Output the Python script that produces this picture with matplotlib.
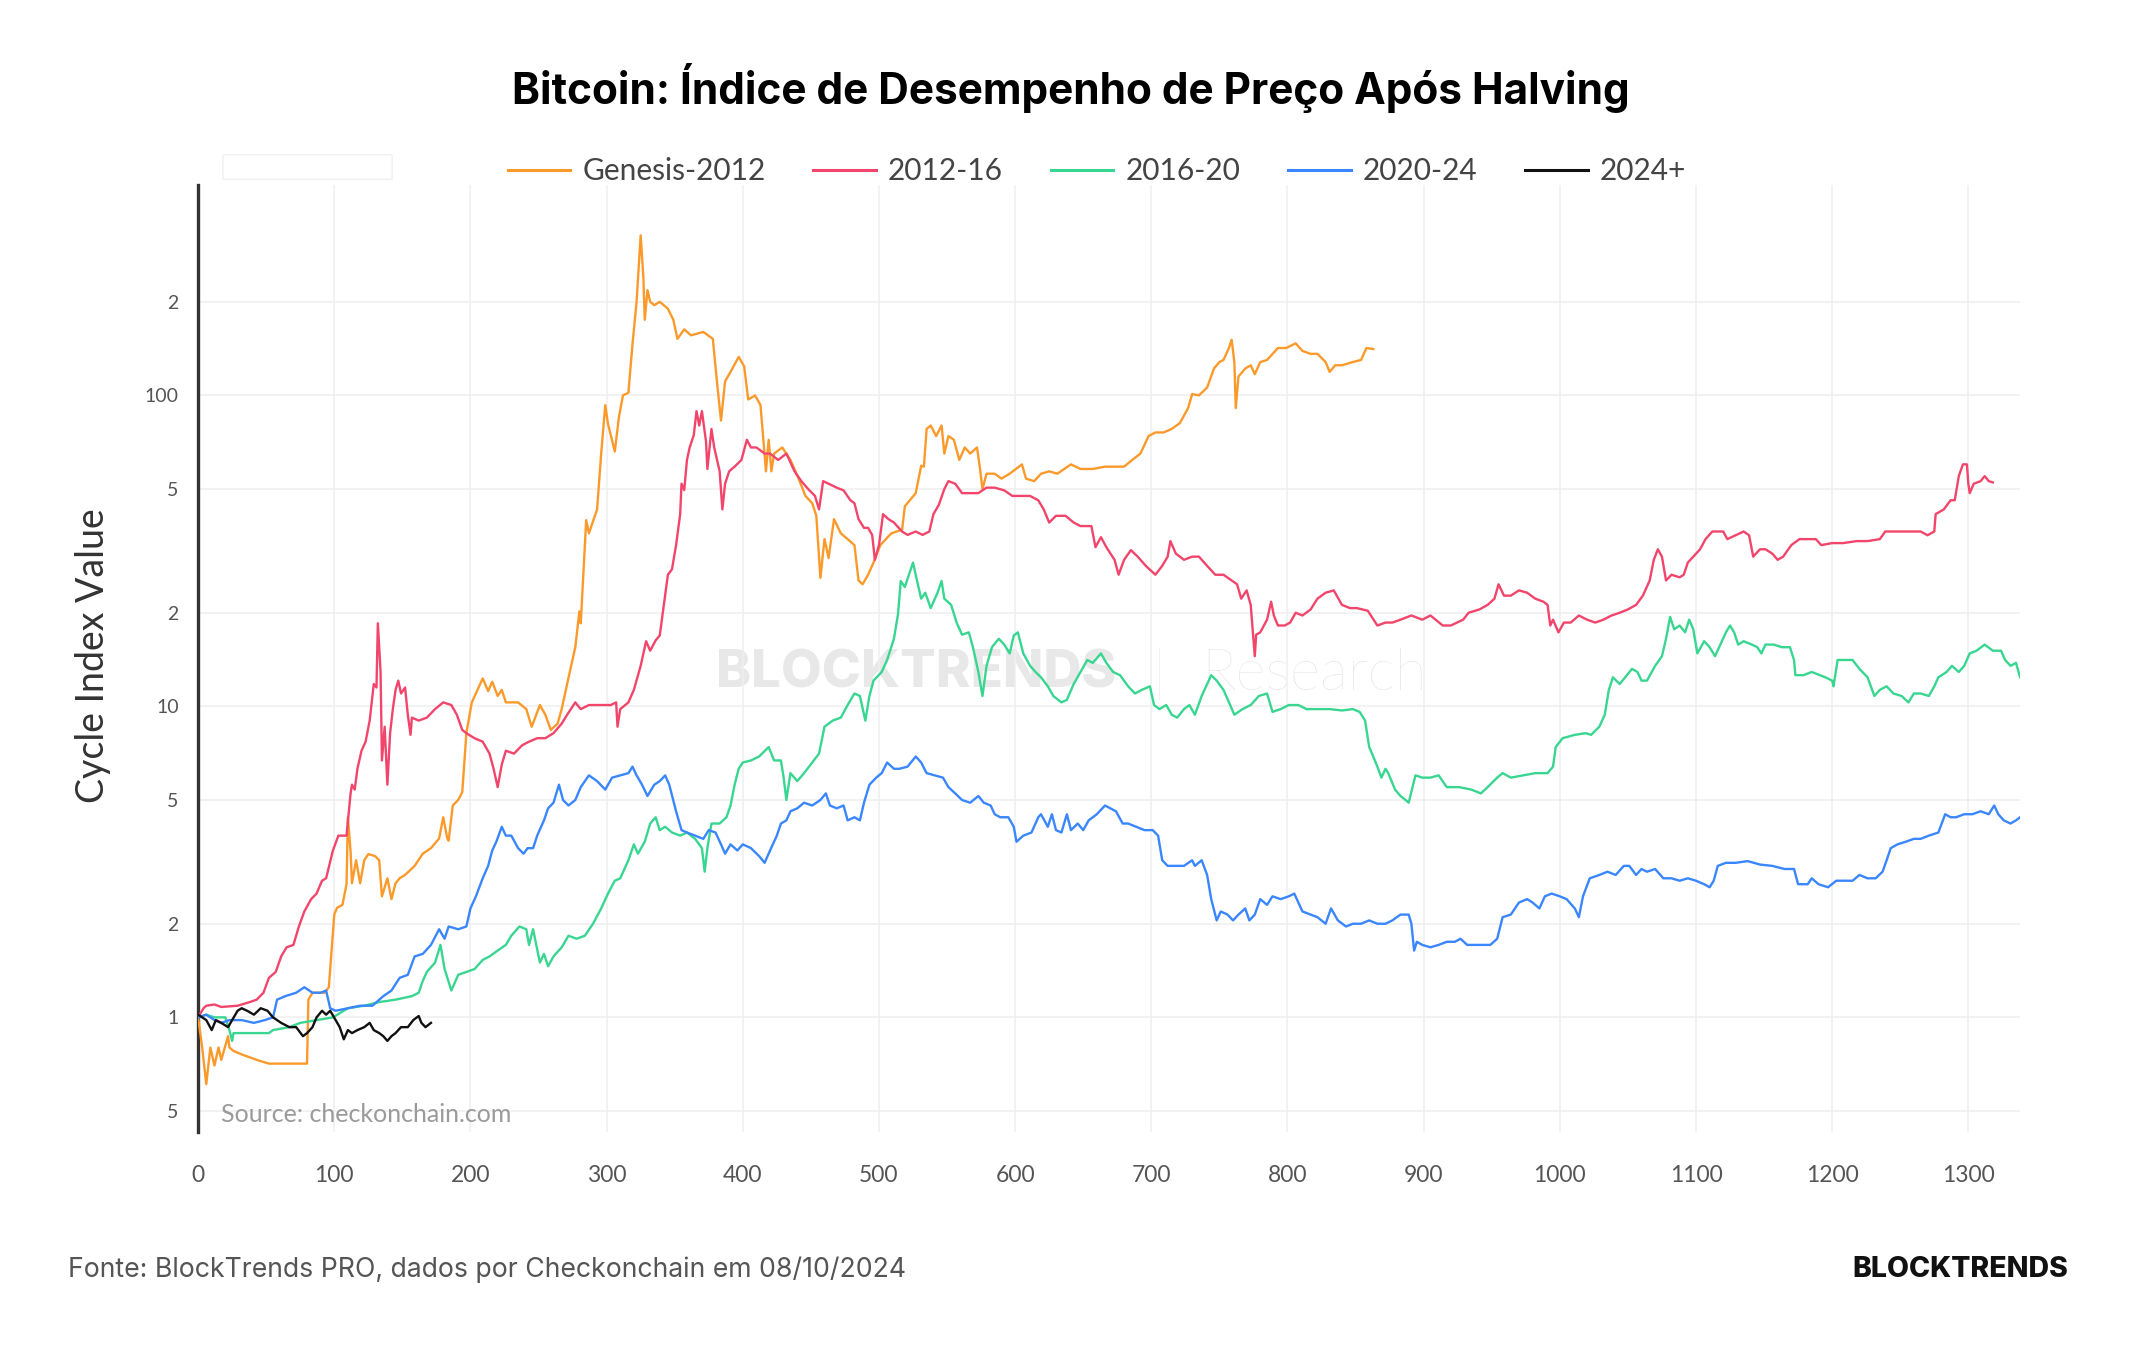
import matplotlib
matplotlib.use("Agg")
import matplotlib.pyplot as plt
from matplotlib.ticker import FixedLocator, FixedFormatter, NullLocator
from matplotlib.patches import FancyBboxPatch

# days since halving / cycle index value
genesis_days = [0, 3, 6, 9, 12, 15, 17, 22, 23, 26, 32, 43, 52, 64, 80, 81, 84, 93, 96, 97,
                100, 102, 106, 109, 110, 112, 113, 116, 119, 122, 125, 130, 133, 135, 139, 142, 145, 148, 152, 159,
                165, 171, 177, 180, 183, 184, 187, 191, 194, 197, 201, 206, 209, 213, 216, 220, 223, 226, 235, 241,
                245, 251, 255, 259, 264, 267, 271, 274, 277, 280, 281, 285, 287, 293, 296, 299, 301, 306, 309, 312,
                316, 319, 322, 325, 327, 328, 330, 332, 335, 339, 345, 349, 352, 357, 362, 371, 378, 381, 384, 387,
                391, 397, 401, 404, 409, 413, 417, 419, 421, 423, 429, 435, 441, 446, 451, 454, 457, 460, 463, 467,
                472, 477, 482, 485, 488, 492, 496, 501, 509, 517, 519, 527, 531, 533, 535, 538, 542, 546, 548, 551,
                555, 559, 563, 567, 572, 574, 576, 579, 585, 590, 596, 605, 608, 614, 619, 625, 631, 641, 648, 657,
                666, 680, 686, 692, 698, 703, 709, 715, 721, 727, 730, 735, 741, 746, 750, 753, 757, 759, 761, 762,
                764, 769, 773, 776, 780, 785, 793, 799, 806, 811, 817, 822, 828, 831, 835, 840, 848, 854, 858, 863]
genesis_vals = [1.0, 0.8, 0.61, 0.8, 0.70, 0.8, 0.73, 0.87, 0.8, 0.78, 0.76, 0.73, 0.71, 0.71, 0.71, 1.14, 1.2, 1.2, 1.25, 1.43,
                2.14, 2.25, 2.3, 2.68, 4.4, 3.4, 2.7, 3.2, 2.7, 3.2, 3.35, 3.3, 3.2, 2.45, 2.8, 2.4, 2.7, 2.8, 2.87, 3.07,
                3.36, 3.5, 3.76, 4.4, 3.76, 3.7, 4.8, 5.0, 5.3, 8.2, 10.3, 11.5, 12.3, 11.2, 12.0, 10.8, 11.3, 10.3, 10.3, 9.8,
                8.6, 10.1, 9.4, 8.4, 8.8, 9.8, 11.8, 13.5, 15.5, 20.2, 18.5, 39.7, 36, 43, 65, 93, 81, 66, 85, 100,
                102, 146, 200, 327, 239, 175, 218, 200, 195, 200, 190, 175, 152, 163, 156, 160, 152, 111, 83, 111,
                119, 133, 124, 97, 100, 93, 57, 72, 57, 65, 68, 62, 54, 47.5, 45, 41, 25.9, 34.5, 30, 40,
                36, 34.5, 33, 25.4, 24.7, 26.5, 29, 33, 36, 37, 44, 48.5, 59.4, 59, 78, 80, 74, 80, 65, 74,
                72, 62, 68, 65, 68, 59, 50, 56, 56, 54, 56, 60, 54, 53, 56, 57, 56, 60, 58, 58,
                59, 59, 62, 65, 74, 76, 76, 78, 81.5, 91, 101, 100, 106, 122, 128, 130, 142, 151, 128, 91,
                115, 122, 125, 117, 128, 130, 142, 142, 147, 139, 136, 136, 128, 119, 125, 125, 128, 130, 142, 141]

c1216_days = [0, 4, 6, 12, 17, 29, 38, 43, 48, 52, 57, 61, 65, 70, 74, 78, 83, 87, 91, 94,
              99, 103, 109, 112, 113, 115, 117, 120, 123, 126, 129, 131, 132, 134, 135, 137, 139, 141, 143, 145,
              147, 149, 152, 154, 156, 157, 162, 168, 174, 180, 186, 190, 194, 197, 203, 209, 214, 217, 220, 223,
              226, 232, 238, 243, 249, 255, 261, 267, 271, 277, 281, 287, 296, 303, 307, 308, 310, 316, 320, 325,
              329, 332, 336, 339, 342, 345, 348, 351, 354, 355, 357, 359, 361, 364, 366, 368, 370, 373, 374, 377,
              379, 383, 385, 387, 390, 394, 399, 403, 406, 410, 416, 420, 426, 432, 438, 443, 448, 453, 456, 459,
              463, 469, 474, 479, 482, 485, 489, 492, 495, 497, 500, 503, 507, 511, 517, 521, 527, 532, 537, 540,
              544, 548, 551, 556, 561, 567, 573, 579, 585, 592, 598, 605, 611, 617, 621, 625, 630, 637, 643, 648,
              656, 659, 663, 667, 673, 676, 680, 685, 690, 696, 703, 708, 712, 714, 718, 724, 730, 735, 741, 747,
              753, 759, 763, 766, 770, 773, 776, 777, 780, 785, 788, 790, 793, 798, 802, 806, 811, 817, 822, 828,
              834, 840, 846, 851, 859, 866, 872, 877, 883, 891, 899, 905, 914, 920, 929, 933, 941, 947, 952, 955,
              959, 964, 970, 976, 982, 988, 991, 993, 995, 999, 1003, 1008, 1014, 1020, 1026, 1032, 1038, 1044, 1050, 1056,
              1061, 1066, 1069, 1072, 1075, 1078, 1082, 1088, 1091, 1094, 1098, 1103, 1107, 1112, 1116, 1120, 1123, 1129, 1135, 1139,
              1142, 1147, 1151, 1156, 1160, 1164, 1170, 1176, 1182, 1188, 1192, 1200, 1208, 1218, 1226, 1235, 1239, 1244, 1253, 1259,
              1265, 1270, 1275, 1276, 1282, 1287, 1290, 1293, 1296, 1299, 1300, 1301, 1304, 1309, 1312, 1315, 1318]
c1216_vals = [1.0, 1.07, 1.09, 1.1, 1.08, 1.09, 1.12, 1.14, 1.2, 1.34, 1.4, 1.57, 1.68, 1.71, 1.96, 2.19, 2.4, 2.5, 2.75, 2.8,
              3.44, 3.84, 3.84, 5.26, 5.6, 5.4, 6.3, 7.2, 7.7, 9.0, 11.8, 11.5, 18.5, 12.9, 6.7, 8.6, 5.6, 8.2, 9.8, 11.3,
              12.1, 11.0, 11.5, 9.4, 8.1, 9.2, 9.0, 9.2, 9.8, 10.3, 10.1, 9.4, 8.4, 8.2, 7.9, 7.7, 7.05, 6.3, 5.5, 6.5,
              7.2, 7.05, 7.5, 7.7, 7.9, 7.9, 8.2, 8.8, 9.4, 10.3, 9.8, 10.1, 10.1, 10.1, 10.3, 8.6, 9.8, 10.3, 11.3, 13.5,
              16.2, 15.1, 16.3, 16.9, 21.2, 26.5, 27.6, 33, 41.5, 52, 49.6, 62, 68, 74.5, 89, 80, 89, 71, 58, 78,
              68, 57, 43, 52, 57, 59, 62, 72, 68, 68, 65, 65, 62, 65, 57, 53, 50, 47.5, 43, 53,
              52, 50.5, 49.5, 46, 45, 40, 37.5, 37.5, 35.6, 29.6, 33, 41.5, 40, 39, 36.5, 35.6, 36.5, 35.6, 36.5, 41.5,
              44.5, 50, 53, 52, 48.5, 48.5, 48.5, 50.5, 50.5, 49.5, 47.5, 47.5, 47.5, 46, 43, 39, 41, 41, 39, 38,
              38, 32.5, 35, 32.5, 29.6, 26.5, 29.6, 31.8, 30.3, 28.3, 26.5, 28.3, 30.3, 34, 31, 29.6, 30.3, 30.3, 28.3, 26.5,
              26.5, 25.4, 24.7, 22.2, 23.6, 21.2, 14.5, 17, 17.3, 19, 21.7, 19.6, 18.2, 18.2, 18.6, 20, 19.6, 20.5, 22.2, 23.2,
              23.6, 21.2, 20.7, 20.7, 20.3, 18.2, 18.6, 18.6, 19, 19.6, 19, 19.6, 18.2, 18.2, 19, 20, 20.5, 21.2, 22.2, 24.7,
              22.7, 22.7, 23.6, 23.2, 22.2, 21.7, 21.2, 18.2, 19, 17.3, 18.6, 18.6, 19.6, 19, 18.6, 19, 19.6, 20, 20.5, 21.2,
              22.7, 25.4, 29.6, 32, 30.3, 25.4, 26.5, 26, 26.5, 29, 30.3, 32, 34.5, 36.5, 36.5, 36.5, 34.5, 35.5, 36.5, 35.5,
              30.3, 32, 32, 31, 29.6, 30.3, 33, 34.5, 34.5, 34.5, 33, 33.5, 33.5, 34, 34, 34.5, 36.5, 36.5, 36.5, 36.5,
              36.5, 35.5, 36.5, 41.5, 43, 46, 46, 55, 60, 60, 52, 48.5, 52, 53, 55, 53, 52.5]

c1620_days = [0, 6, 12, 20, 23, 25, 26, 35, 45, 52, 55, 67, 75, 87, 99, 110, 122, 133, 145, 157,
              162, 165, 168, 174, 178, 181, 186, 191, 197, 203, 209, 214, 220, 226, 230, 236, 241, 243, 246, 251,
              254, 257, 261, 267, 272, 278, 284, 290, 296, 301, 306, 310, 316, 320, 323, 328, 332, 336, 339, 343,
              348, 354, 359, 365, 370, 372, 374, 377, 383, 388, 391, 394, 397, 400, 406, 412, 419, 423, 428, 430,
              432, 435, 440, 445, 451, 456, 460, 466, 472, 477, 482, 486, 490, 493, 496, 502, 506, 511, 514, 516,
              519, 522, 525, 528, 531, 534, 538, 543, 546, 548, 553, 557, 561, 566, 569, 573, 576, 579, 583, 588,
              592, 596, 599, 602, 606, 611, 615, 619, 624, 628, 634, 638, 643, 648, 653, 657, 663, 667, 672, 677,
              683, 688, 693, 699, 702, 706, 711, 715, 719, 724, 728, 732, 737, 741, 744, 748, 753, 757, 761, 767,
              773, 779, 785, 789, 795, 801, 808, 814, 822, 831, 840, 848, 853, 857, 860, 863, 866, 869, 872, 874,
              879, 883, 888, 889, 894, 899, 905, 911, 917, 926, 935, 942, 947, 954, 958, 964, 973, 982, 991, 995,
              997, 1002, 1011, 1019, 1023, 1029, 1033, 1036, 1039, 1044, 1048, 1053, 1057, 1060, 1064, 1070, 1075, 1078, 1081, 1084,
              1088, 1092, 1095, 1098, 1101, 1106, 1110, 1114, 1117, 1122, 1125, 1128, 1131, 1135, 1141, 1145, 1148, 1151, 1157, 1163,
              1169, 1172, 1173, 1179, 1185, 1191, 1195, 1200, 1201, 1204, 1209, 1215, 1220, 1226, 1231, 1235, 1240, 1245, 1251, 1256,
              1260, 1265, 1271, 1275, 1278, 1284, 1288, 1293, 1297, 1301, 1306, 1312, 1318, 1324, 1327, 1331, 1335, 1338]
c1620_vals = [1.0, 1.02, 1.0, 1.0, 0.91, 0.84, 0.89, 0.89, 0.89, 0.89, 0.91, 0.93, 0.96, 0.98, 1.0, 1.07, 1.09, 1.12, 1.14, 1.17,
              1.2, 1.31, 1.4, 1.5, 1.71, 1.43, 1.22, 1.37, 1.4, 1.43, 1.53, 1.57, 1.64, 1.71, 1.83, 1.96, 1.92, 1.71, 1.92, 1.5,
              1.6, 1.46, 1.57, 1.68, 1.83, 1.79, 1.83, 2.0, 2.24, 2.5, 2.75, 2.8, 3.2, 3.6, 3.36, 3.67, 4.2, 4.4, 4.0, 4.1,
              3.93, 3.84, 3.93, 3.75, 3.5, 2.94, 3.5, 4.2, 4.2, 4.4, 4.8, 5.6, 6.3, 6.6, 6.7, 6.9, 7.4, 6.7, 6.7, 5.9,
              5.0, 6.1, 5.75, 6.1, 6.6, 7.05, 8.6, 9.0, 9.2, 10.1, 11.0, 10.8, 9.0, 10.8, 12.1, 12.9, 14.1, 16.5, 19.8, 25.3,
              24.2, 26.5, 29, 25.3, 22.2, 23.2, 20.7, 23.2, 25.3, 22.2, 21.2, 18.6, 17, 17.3, 15.5, 12.9, 10.8, 13.5, 15.5, 16.5,
              15.8, 14.8, 16.9, 17.3, 14.8, 13.5, 12.9, 12.4, 11.6, 10.8, 10.3, 10.5, 11.8, 12.9, 14.1, 13.8, 14.8, 13.8, 12.9, 12.6,
              11.6, 11.0, 11.3, 11.6, 10.1, 9.8, 10.1, 9.4, 9.2, 9.8, 10.1, 9.4, 10.8, 11.8, 12.6, 12.1, 11.3, 10.3, 9.4, 9.8,
              10.1, 10.8, 11.0, 9.6, 9.8, 10.1, 10.1, 9.8, 9.8, 9.8, 9.7, 9.8, 9.6, 9.0, 7.4, 6.9, 6.4, 5.9, 6.3, 6.1,
              5.4, 5.15, 4.95, 4.9, 6.0, 5.9, 5.9, 6.0, 5.5, 5.5, 5.4, 5.25, 5.5, 5.9, 6.1, 5.9, 6.0, 6.1, 6.1, 6.4,
              7.4, 7.9, 8.1, 8.2, 8.1, 8.6, 9.4, 11.3, 12.4, 11.8, 12.4, 13.2, 12.9, 12.1, 12.1, 13.5, 14.5, 16.5, 19.4, 17.7,
              18.2, 17.3, 19, 17.7, 14.8, 16.2, 15.5, 14.5, 15.5, 17.3, 18.2, 17.3, 15.8, 16.2, 15.8, 15.5, 14.8, 15.8, 15.8, 15.5,
              15.5, 14.1, 12.6, 12.6, 12.9, 12.6, 12.4, 12.1, 11.6, 14.1, 14.1, 14.1, 13.2, 12.4, 10.8, 11.3, 11.6, 11.0, 10.8, 10.3,
              11.0, 11.0, 10.8, 11.6, 12.4, 12.9, 13.5, 12.9, 13.5, 14.8, 15.1, 15.8, 15.1, 15.1, 14.1, 13.5, 13.8, 12.4]

c2024_days = [0, 6, 12, 17, 23, 32, 41, 49, 55, 58, 64, 72, 78, 84, 90, 94, 97, 101, 110, 119,
              128, 136, 142, 148, 154, 159, 165, 171, 177, 181, 184, 191, 197, 200, 204, 209, 213, 216, 219, 223,
              226, 230, 235, 239, 242, 246, 249, 254, 257, 261, 265, 268, 272, 277, 281, 287, 293, 299, 304, 310,
              316, 319, 322, 326, 330, 335, 339, 343, 346, 351, 355, 359, 365, 371, 375, 380, 384, 387, 391, 396,
              400, 406, 412, 416, 420, 425, 428, 432, 435, 440, 445, 451, 457, 461, 464, 469, 474, 477, 482, 486,
              489, 493, 498, 502, 506, 511, 515, 521, 527, 531, 535, 541, 547, 551, 556, 561, 567, 573, 577, 582,
              585, 589, 595, 599, 601, 606, 612, 617, 619, 624, 627, 630, 634, 638, 641, 646, 650, 654, 660, 666,
              670, 674, 679, 683, 689, 695, 701, 705, 708, 712, 718, 724, 730, 732, 737, 741, 744, 748, 751, 756,
              760, 764, 769, 772, 776, 780, 785, 789, 795, 801, 805, 811, 817, 822, 828, 832, 837, 843, 848, 854,
              860, 866, 872, 877, 883, 889, 891, 893, 895, 899, 905, 911, 917, 923, 927, 932, 941, 949, 954, 958,
              964, 970, 976, 980, 985, 989, 994, 1000, 1005, 1011, 1014, 1017, 1022, 1029, 1035, 1041, 1047, 1051, 1056, 1060,
              1064, 1070, 1076, 1082, 1088, 1094, 1100, 1106, 1110, 1113, 1116, 1122, 1129, 1138, 1147, 1156, 1165, 1172, 1175, 1182,
              1185, 1190, 1197, 1203, 1209, 1215, 1220, 1226, 1232, 1237, 1240, 1243, 1248, 1254, 1260, 1265, 1271, 1278, 1283, 1287,
              1291, 1297, 1303, 1309, 1315, 1319, 1322, 1326, 1331, 1335, 1338]
c2024_vals = [1.0, 1.02, 0.98, 0.96, 0.98, 0.98, 0.96, 0.98, 1.0, 1.14, 1.17, 1.2, 1.25, 1.2, 1.2, 1.22, 1.07, 1.05, 1.07, 1.09,
              1.09, 1.17, 1.22, 1.34, 1.37, 1.57, 1.6, 1.71, 1.92, 1.79, 1.96, 1.92, 1.96, 2.24, 2.45, 2.8, 3.07, 3.44, 3.67, 4.1,
              3.84, 3.84, 3.5, 3.36, 3.5, 3.5, 3.84, 4.3, 4.7, 4.9, 5.6, 5.0, 4.8, 5.0, 5.5, 6.0, 5.75, 5.4, 5.9, 6.0,
              6.1, 6.4, 6.0, 5.6, 5.15, 5.6, 5.75, 6.0, 5.6, 4.6, 4.0, 3.93, 3.84, 3.75, 4.0, 3.93, 3.6, 3.36, 3.6, 3.44,
              3.6, 3.5, 3.3, 3.14, 3.44, 3.84, 4.2, 4.3, 4.6, 4.7, 4.9, 4.8, 5.0, 5.25, 4.8, 4.7, 4.8, 4.3, 4.4, 4.3,
              4.9, 5.6, 5.9, 6.1, 6.6, 6.3, 6.3, 6.4, 6.9, 6.6, 6.1, 6.0, 5.9, 5.5, 5.25, 5.0, 4.9, 5.15, 4.9, 4.8,
              4.5, 4.4, 4.4, 4.1, 3.67, 3.84, 3.93, 4.4, 4.5, 4.1, 4.5, 4.0, 3.93, 4.5, 4.0, 4.2, 4.0, 4.3, 4.5, 4.8,
              4.7, 4.6, 4.2, 4.2, 4.1, 4.0, 4.0, 3.84, 3.2, 3.07, 3.07, 3.07, 3.2, 3.07, 3.2, 2.87, 2.4, 2.05, 2.19, 2.14,
              2.05, 2.14, 2.24, 2.05, 2.14, 2.4, 2.3, 2.45, 2.4, 2.45, 2.5, 2.19, 2.14, 2.1, 2.0, 2.24, 2.05, 1.96, 2.0, 2.0,
              2.05, 2.0, 2.0, 2.05, 2.14, 2.14, 2.0, 1.64, 1.75, 1.71, 1.68, 1.71, 1.75, 1.75, 1.79, 1.71, 1.71, 1.71, 1.79, 2.1,
              2.14, 2.34, 2.4, 2.34, 2.24, 2.45, 2.5, 2.45, 2.4, 2.24, 2.1, 2.45, 2.8, 2.87, 2.94, 2.87, 3.07, 3.07, 2.87, 3.0,
              2.94, 3.0, 2.8, 2.8, 2.75, 2.8, 2.75, 2.68, 2.62, 2.75, 3.07, 3.14, 3.14, 3.18, 3.1, 3.07, 3.0, 3.0, 2.68, 2.68,
              2.8, 2.68, 2.62, 2.75, 2.75, 2.75, 2.87, 2.8, 2.8, 2.94, 3.2, 3.5, 3.6, 3.67, 3.75, 3.75, 3.84, 3.93, 4.5, 4.4,
              4.4, 4.5, 4.5, 4.6, 4.5, 4.8, 4.5, 4.3, 4.2, 4.3, 4.4]

c2024p_days = [0, 3, 6, 10, 13, 17, 22, 25, 29, 32, 36, 41, 46, 51, 55, 61, 67, 72, 77, 80,
               84, 87, 91, 94, 97, 101, 104, 107, 110, 113, 117, 122, 126, 129, 133, 136, 139, 142, 145, 149,
               154, 158, 162, 164, 167, 171]
c2024p_vals = [1.02, 1.0, 0.98, 0.91, 0.98, 0.96, 0.93, 0.98, 1.05, 1.07, 1.05, 1.02, 1.07, 1.05, 1.0, 0.96, 0.93, 0.93, 0.87, 0.89,
               0.93, 1.0, 1.05, 1.02, 1.05, 0.98, 0.93, 0.85, 0.91, 0.89, 0.91, 0.93, 0.96, 0.91, 0.89, 0.87, 0.84, 0.87, 0.89, 0.93,
               0.93, 0.98, 1.01, 0.96, 0.93, 0.96]

series_names = ["Genesis-2012", "2012-16", "2016-20", "2020-24", "2024+"]
series_colors = ["#fb9a2b", "#f2456b", "#38d690", "#3a86ff", "#111111"]

y_ticks = [0.5, 1, 2, 5, 10, 20, 50, 100, 200]
y_tick_labels = ["5", "1", "2", "5", "10", "2", "5", "100", "2"]
x_ticks = list(range(0, 1400, 100))

fig = plt.figure(figsize=(21.44, 13.5), dpi=100)
ax = fig.add_axes([0.0924, 0.1615, 0.8498, 0.7015])

all_days = [genesis_days, c1216_days, c1620_days, c2024_days, c2024p_days]
all_vals = [genesis_vals, c1216_vals, c1620_vals, c2024_vals, c2024p_vals]
for d, v, name, col in zip(all_days, all_vals, series_names, series_colors):
    ax.plot(d, v, color=col, lw=1.7, label=name, zorder=3)

ax.set_yscale("log")
ax.set_xlim(0, 1338)
ax.set_ylim(0.428, 475)
ax.yaxis.set_major_locator(FixedLocator(y_ticks))
ax.yaxis.set_major_formatter(FixedFormatter(y_tick_labels))
ax.yaxis.set_minor_locator(NullLocator())
ax.set_xticks(x_ticks)
ax.grid(True, color="#efefef", lw=1.1, zorder=0)
ax.tick_params(axis="both", length=0, colors="#555555")
ax.tick_params(axis="y", labelsize=14, pad=14)
ax.tick_params(axis="x", labelsize=16.5, pad=24)
for s in ["top", "right", "bottom"]:
    ax.spines[s].set_visible(False)
ax.spines["left"].set_color("#333333")
ax.spines["left"].set_linewidth(2.4)
for lab in ax.get_xticklabels() + ax.get_yticklabels():
    lab.set_family("Lato")

# watermark
ax.text(0.394, 0.4836, "BLOCKTRENDS", transform=ax.transAxes, ha="center", va="center",
        fontsize=38, fontweight="heavy", family="Inter", color="#e8e8e8", zorder=1)
ax.text(0.5275, 0.4836, "|", transform=ax.transAxes, ha="center", va="center",
        fontsize=40, family="Lato", color="#e3e3e3", zorder=1, fontweight="light")
ax.text(0.6125, 0.4836, "Research", transform=ax.transAxes, ha="center", va="center",
        fontsize=42, family="Lato", fontweight="light", color="#e3e3e3", zorder=1)

ax.text(0.0126, 0.018, "Source: checkonchain.com", transform=ax.transAxes, ha="left", va="center",
        fontsize=18, family="Lato", color="#9a9a9a", zorder=4)

fig.text(0.4995, 0.935, "Bitcoin: Índice de Desempenho de Preço Após Halving", ha="center", va="center",
         fontsize=30.5, fontweight="bold", family="Inter", color="#000000")

fig.text(0.0434, 0.514, "Cycle Index Value", rotation=90, ha="center", va="center",
         fontsize=27, family="Lato", color="#333333")

leg = fig.legend(loc="center", bbox_to_anchor=(0.5116, 0.873), ncol=5, frameon=False,
                 prop={"family": "Lato", "size": 21.5}, handlelength=2.1, handletextpad=0.4,
                 columnspacing=1.6)
for t in leg.get_texts():
    t.set_color("#444444")
for h in leg.get_lines():
    h.set_linewidth(2.2)

# faint empty box top-left
fig.patches.append(FancyBboxPatch((225 / 2144, 1 - 178 / 1350), 165 / 2144, 22 / 1350,
                                  boxstyle="round,pad=0.001", transform=fig.transFigure,
                                  facecolor="none", edgecolor="#f0f0f0", lw=1))

fig.text(0.0317, 0.0593, "Fonte: BlockTrends PRO, dados por Checkonchain em 08/10/2024", ha="left", va="center",
         fontsize=19.2, family="Inter", color="#555555")
fig.text(0.9646, 0.0593, "BLOCKTRENDS", ha="right", va="center",
         fontsize=20.5, fontweight="heavy", family="Inter", color="#111111")

fig.savefig("out.png", dpi=100, facecolor="white")
